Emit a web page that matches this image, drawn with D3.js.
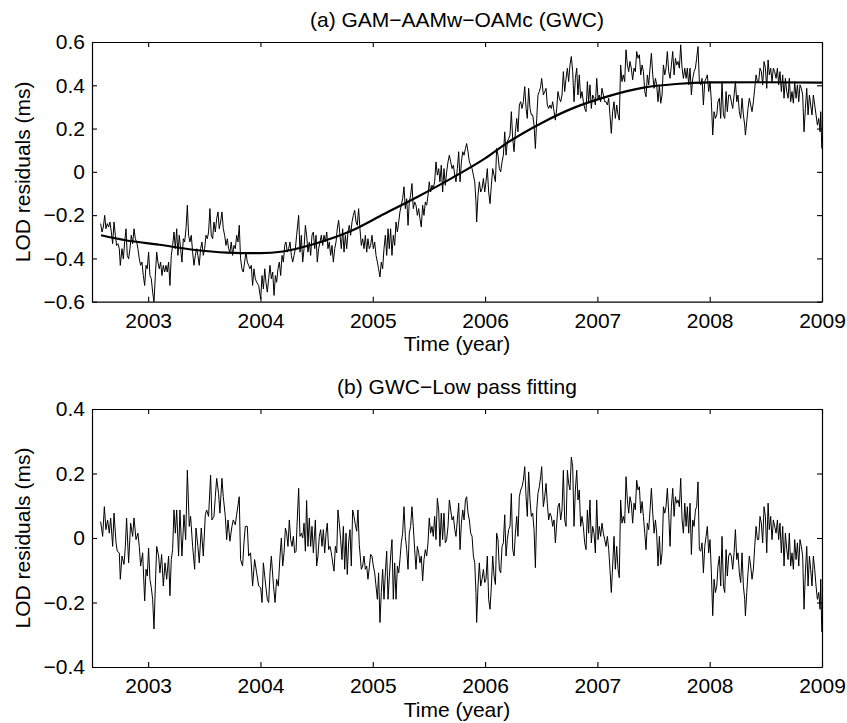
<!DOCTYPE html>
<html>
<head>
<meta charset="utf-8">
<script src="https://cdn.jsdelivr.net/npm/d3@7"></script>
<style>
  html, body { margin: 0; padding: 0; background: #fff; }
  svg { display: block; font-family: "Liberation Sans", Arial, Helvetica, sans-serif; }
</style>
</head>
<body>
<svg id="chart" width="847" height="723"></svg>
<script>
// Axis ticks
const yearTicks = [2003, 2004, 2005, 2006, 2007, 2008, 2009];
const topTicks = [-0.6, -0.4, -0.2, 0, 0.2, 0.4, 0.6];
const bottomTicks = [-0.4, -0.2, 0, 0.2, 0.4];

// Panel titles and axis labels
const topTitle = "(a) GAM\u2212AAMw\u2212OAMc (GWC)";
const bottomTitle = "(b) GWC\u2212Low pass fitting";
const xLabel = "Time (year)";
const yLabel = "LOD residuals (ms)";

// (a) LOD residuals GAM - AAMw - OAMc, [decimal year, ms]
const gwcSeries = [
[2002.577,-0.239],[2002.589,-0.278],[2002.601,-0.255],[2002.613,-0.201],[2002.624,-0.263],[2002.636,-0.239],[2002.648,-0.255],[2002.660,-0.232],[2002.672,-0.278],[2002.684,-0.332],[2002.696,-0.232],[2002.708,-0.293],[2002.719,-0.340],[2002.731,-0.332],[2002.743,-0.355],[2002.752,-0.432],[2002.767,-0.355],[2002.779,-0.402],[2002.791,-0.324],[2002.803,-0.263],[2002.814,-0.386],[2002.826,-0.402],[2002.838,-0.355],[2002.850,-0.293],[2002.862,-0.332],[2002.874,-0.263],[2002.886,-0.309],[2002.898,-0.324],[2002.909,-0.355],[2002.921,-0.402],[2002.933,-0.432],[2002.945,-0.417],[2002.957,-0.479],[2002.969,-0.525],[2002.981,-0.432],[2002.992,-0.448],[2003.004,-0.371],[2003.016,-0.479],[2003.028,-0.494],[2003.040,-0.556],[2003.052,-0.602],[2003.064,-0.479],[2003.076,-0.371],[2003.087,-0.417],[2003.099,-0.448],[2003.111,-0.417],[2003.123,-0.479],[2003.135,-0.432],[2003.147,-0.463],[2003.159,-0.432],[2003.170,-0.463],[2003.182,-0.417],[2003.194,-0.525],[2003.206,-0.386],[2003.218,-0.340],[2003.230,-0.278],[2003.242,-0.355],[2003.254,-0.263],[2003.265,-0.386],[2003.277,-0.293],[2003.289,-0.355],[2003.301,-0.417],[2003.313,-0.309],[2003.325,-0.324],[2003.337,-0.263],[2003.349,-0.154],[2003.360,-0.293],[2003.372,-0.324],[2003.384,-0.293],[2003.396,-0.371],[2003.408,-0.432],[2003.420,-0.386],[2003.432,-0.355],[2003.443,-0.386],[2003.455,-0.432],[2003.467,-0.355],[2003.479,-0.324],[2003.491,-0.386],[2003.503,-0.355],[2003.515,-0.293],[2003.527,-0.309],[2003.538,-0.278],[2003.550,-0.170],[2003.562,-0.293],[2003.574,-0.309],[2003.586,-0.232],[2003.598,-0.278],[2003.610,-0.216],[2003.622,-0.185],[2003.633,-0.263],[2003.645,-0.232],[2003.657,-0.185],[2003.669,-0.263],[2003.681,-0.293],[2003.693,-0.340],[2003.705,-0.309],[2003.716,-0.355],[2003.728,-0.371],[2003.740,-0.324],[2003.752,-0.386],[2003.764,-0.340],[2003.776,-0.355],[2003.788,-0.293],[2003.800,-0.324],[2003.811,-0.247],[2003.823,-0.402],[2003.835,-0.448],[2003.847,-0.463],[2003.859,-0.417],[2003.871,-0.371],[2003.883,-0.417],[2003.895,-0.432],[2003.906,-0.448],[2003.918,-0.432],[2003.930,-0.525],[2003.942,-0.448],[2003.954,-0.494],[2003.966,-0.510],[2003.984,-0.525],
[2004.002,-0.587],[2004.014,-0.479],[2004.026,-0.541],[2004.038,-0.448],[2004.049,-0.510],[2004.061,-0.556],[2004.073,-0.494],[2004.085,-0.432],[2004.097,-0.494],[2004.109,-0.463],[2004.121,-0.571],[2004.133,-0.479],[2004.144,-0.510],[2004.156,-0.448],[2004.168,-0.417],[2004.180,-0.479],[2004.192,-0.386],[2004.204,-0.417],[2004.216,-0.340],[2004.227,-0.324],[2004.239,-0.371],[2004.251,-0.355],[2004.263,-0.324],[2004.275,-0.386],[2004.287,-0.417],[2004.299,-0.386],[2004.311,-0.355],[2004.322,-0.293],[2004.340,-0.201],[2004.352,-0.371],[2004.364,-0.293],[2004.376,-0.417],[2004.388,-0.355],[2004.400,-0.247],[2004.411,-0.293],[2004.423,-0.371],[2004.435,-0.324],[2004.447,-0.386],[2004.459,-0.293],[2004.471,-0.278],[2004.483,-0.355],[2004.495,-0.293],[2004.506,-0.417],[2004.518,-0.355],[2004.530,-0.324],[2004.542,-0.293],[2004.554,-0.340],[2004.566,-0.293],[2004.578,-0.324],[2004.590,-0.278],[2004.601,-0.355],[2004.613,-0.324],[2004.625,-0.386],[2004.637,-0.340],[2004.649,-0.417],[2004.661,-0.355],[2004.673,-0.324],[2004.684,-0.263],[2004.696,-0.224],[2004.708,-0.293],[2004.720,-0.355],[2004.732,-0.263],[2004.744,-0.371],[2004.756,-0.293],[2004.768,-0.355],[2004.779,-0.278],[2004.791,-0.247],[2004.803,-0.293],[2004.815,-0.232],[2004.827,-0.201],[2004.839,-0.178],[2004.851,-0.232],[2004.862,-0.247],[2004.874,-0.170],[2004.886,-0.263],[2004.898,-0.340],[2004.910,-0.309],[2004.922,-0.355],[2004.934,-0.293],[2004.946,-0.371],[2004.957,-0.309],[2004.969,-0.355],[2004.981,-0.340],[2004.993,-0.293],[2005.005,-0.355],[2005.017,-0.324],[2005.029,-0.386],[2005.041,-0.417],[2005.052,-0.448],[2005.064,-0.486],[2005.076,-0.417],[2005.088,-0.448],[2005.100,-0.355],[2005.112,-0.293],[2005.124,-0.386],[2005.136,-0.263],[2005.147,-0.355],[2005.159,-0.263],[2005.171,-0.386],[2005.183,-0.293],[2005.195,-0.340],[2005.207,-0.232],[2005.219,-0.278],[2005.231,-0.232],[2005.242,-0.185],[2005.254,-0.154],[2005.266,-0.124],[2005.278,-0.069],[2005.290,-0.170],[2005.302,-0.124],[2005.314,-0.247],[2005.325,-0.139],[2005.337,-0.108],[2005.349,-0.054],[2005.361,-0.170],[2005.373,-0.139],[2005.385,-0.154],[2005.397,-0.201],[2005.409,-0.170],[2005.420,-0.216],[2005.432,-0.255],[2005.444,-0.154],[2005.456,-0.201],[2005.468,-0.139],[2005.480,-0.154],[2005.492,-0.108],[2005.503,-0.046],[2005.515,-0.093],[2005.527,-0.062],[2005.539,-0.077],[2005.551,-0.046],[2005.563,0.046],[2005.575,-0.015],[2005.587,0.015],[2005.598,-0.046],[2005.610,0.031],[2005.622,-0.093],[2005.634,0.015],[2005.646,-0.062],[2005.658,0.000],[2005.670,0.046],[2005.682,0.077],
[2005.694,0.046],[2005.706,0.015],[2005.718,0.031],[2005.730,-0.015],[2005.741,-0.046],[2005.753,0.015],[2005.765,0.093],[2005.777,-0.046],[2005.789,0.046],[2005.801,0.093],[2005.813,0.077],[2005.825,0.108],[2005.836,0.131],[2005.848,0.093],[2005.860,0.046],[2005.872,0.031],[2005.884,0.015],[2005.896,-0.015],[2005.908,-0.046],[2005.919,-0.139],[2005.925,-0.232],[2005.937,-0.108],[2005.949,-0.046],[2005.961,-0.093],[2005.973,-0.077],[2005.985,-0.031],[2005.997,-0.093],[2006.008,-0.046],[2006.020,0.015],[2006.032,-0.093],[2006.044,-0.147],[2006.056,-0.062],[2006.068,0.015],[2006.080,-0.015],[2006.092,-0.046],[2006.103,0.108],[2006.115,0.077],[2006.127,0.015],[2006.139,0.000],[2006.151,0.046],[2006.163,0.077],[2006.175,0.185],[2006.187,0.077],[2006.198,0.139],[2006.210,0.154],[2006.222,0.170],[2006.234,0.278],[2006.246,0.154],[2006.258,0.093],[2006.270,0.185],[2006.282,0.247],[2006.293,0.185],[2006.305,0.309],[2006.317,0.324],[2006.329,0.293],[2006.341,0.324],[2006.353,0.394],[2006.365,0.293],[2006.376,0.247],[2006.388,0.386],[2006.400,0.293],[2006.412,0.263],[2006.424,0.263],[2006.436,0.216],[2006.448,0.108],[2006.460,0.247],[2006.471,0.355],[2006.483,0.371],[2006.495,0.394],[2006.504,0.432],[2006.519,0.355],[2006.531,0.371],[2006.543,0.386],[2006.554,0.309],[2006.566,0.293],[2006.578,0.309],[2006.590,0.293],[2006.602,0.324],[2006.614,0.278],[2006.626,0.239],[2006.638,0.293],[2006.649,0.371],[2006.661,0.340],[2006.673,0.324],[2006.685,0.355],[2006.697,0.463],[2006.709,0.371],[2006.721,0.432],[2006.733,0.479],[2006.744,0.417],[2006.756,0.494],[2006.768,0.533],[2006.780,0.463],[2006.792,0.324],[2006.804,0.432],[2006.816,0.479],[2006.827,0.355],[2006.839,0.448],[2006.851,0.340],[2006.863,0.371],[2006.875,0.324],[2006.887,0.293],[2006.899,0.278],[2006.911,0.417],[2006.922,0.324],[2006.934,0.402],[2006.946,0.293],[2006.958,0.355],[2006.970,0.340],[2006.982,0.309],[2006.994,0.432],[2007.006,0.340],[2007.017,0.355],[2007.029,0.324],[2007.041,0.386],[2007.053,0.355],[2007.065,0.324],[2007.077,0.324],[2007.089,0.309],[2007.101,0.340],[2007.112,0.263],[2007.124,0.178],[2007.136,0.278],[2007.148,0.324],[2007.160,0.247],[2007.172,0.309],[2007.184,0.263],[2007.195,0.239],[2007.207,0.494],[2007.219,0.417],[2007.231,0.448],[2007.243,0.417],[2007.255,0.564],[2007.267,0.494],[2007.279,0.463],[2007.290,0.510],[2007.302,0.479],[2007.314,0.425],[2007.326,0.479],[2007.338,0.463],[2007.350,0.556],[2007.362,0.525],[2007.374,0.541],
[2007.386,0.448],[2007.398,0.494],[2007.410,0.463],[2007.422,0.371],[2007.433,0.347],[2007.445,0.448],[2007.457,0.402],[2007.469,0.479],[2007.481,0.548],[2007.493,0.448],[2007.505,0.386],[2007.517,0.432],[2007.528,0.402],[2007.540,0.324],[2007.552,0.402],[2007.564,0.317],[2007.576,0.355],[2007.588,0.494],[2007.600,0.448],[2007.611,0.479],[2007.623,0.556],[2007.635,0.463],[2007.647,0.432],[2007.659,0.494],[2007.671,0.556],[2007.683,0.448],[2007.695,0.525],[2007.706,0.494],[2007.718,0.510],[2007.730,0.479],[2007.742,0.587],[2007.754,0.479],[2007.766,0.432],[2007.778,0.479],[2007.790,0.432],[2007.801,0.479],[2007.813,0.402],[2007.825,0.479],[2007.837,0.355],[2007.849,0.432],[2007.861,0.463],[2007.873,0.479],[2007.884,0.525],[2007.896,0.579],[2007.908,0.417],[2007.920,0.402],[2007.932,0.432],[2007.944,0.309],[2007.956,0.417],[2007.968,0.432],[2007.979,0.448],[2007.991,0.371],[2008.003,0.417],[2008.015,0.324],[2008.027,0.170],[2008.039,0.278],[2008.051,0.247],[2008.063,0.263],[2008.074,0.324],[2008.086,0.340],[2008.098,0.247],[2008.110,0.417],[2008.122,0.263],[2008.134,0.247],[2008.146,0.371],[2008.157,0.278],[2008.169,0.355],[2008.181,0.355],[2008.193,0.324],[2008.205,0.293],[2008.217,0.355],[2008.229,0.417],[2008.241,0.324],[2008.252,0.355],[2008.264,0.278],[2008.276,0.247],[2008.288,0.340],[2008.300,0.263],[2008.312,0.216],[2008.318,0.170],[2008.330,0.232],[2008.341,0.293],[2008.353,0.340],[2008.365,0.309],[2008.377,0.278],[2008.389,0.324],[2008.401,0.386],[2008.413,0.448],[2008.425,0.417],[2008.436,0.417],[2008.448,0.479],[2008.460,0.463],[2008.472,0.402],[2008.484,0.510],[2008.496,0.479],[2008.508,0.386],[2008.520,0.517],[2008.531,0.448],[2008.543,0.479],[2008.555,0.417],[2008.567,0.479],[2008.579,0.463],[2008.591,0.432],[2008.603,0.479],[2008.614,0.402],[2008.626,0.463],[2008.638,0.371],[2008.650,0.448],[2008.662,0.340],[2008.674,0.432],[2008.686,0.371],[2008.698,0.340],[2008.709,0.432],[2008.721,0.324],[2008.733,0.371],[2008.745,0.317],[2008.757,0.417],[2008.769,0.340],[2008.781,0.402],[2008.793,0.324],[2008.804,0.402],[2008.816,0.386],[2008.828,0.355],[2008.840,0.185],[2008.852,0.293],[2008.864,0.386],[2008.876,0.263],[2008.888,0.355],[2008.899,0.309],[2008.911,0.263],[2008.923,0.355],[2008.935,0.309],[2008.947,0.263],[2008.959,0.216],[2008.971,0.247],[2008.983,0.185],[2008.989,0.278],[2008.998,0.108]
];

// (a) low-pass fitting curve, [decimal year, ms]
const gwcFit = [
[2002.58,-0.293],[2002.80,-0.316],[2003.10,-0.337],[2003.40,-0.360],[2003.70,-0.373],[2004.00,-0.376],[2004.20,-0.368],[2004.50,-0.330],[2004.80,-0.275],[2005.10,-0.195],[2005.40,-0.115],[2005.70,-0.030],[2006.00,0.062],[2006.20,0.135],[2006.50,0.225],[2006.80,0.298],[2007.10,0.350],[2007.40,0.388],[2007.70,0.406],[2008.00,0.413],[2008.50,0.414],[2009.00,0.412]
];

// (b) GWC minus low-pass fitting, [decimal year, ms]
const residualSeries = [
[2002.577,0.051],[2002.595,0.005],[2002.610,0.097],[2002.624,0.026],[2002.639,0.056],[2002.654,0.015],[2002.666,0.062],[2002.684,-0.026],[2002.696,0.077],[2002.714,-0.015],[2002.725,-0.041],[2002.743,-0.046],[2002.752,-0.128],[2002.767,-0.056],[2002.785,-0.082],[2002.797,-0.026],[2002.808,0.062],[2002.826,-0.077],[2002.844,0.046],[2002.862,0.005],[2002.874,0.062],[2002.892,-0.005],[2002.909,0.015],[2002.921,-0.026],[2002.933,-0.087],[2002.951,-0.046],[2002.969,-0.195],[2002.981,-0.097],[2002.992,-0.118],[2003.004,-0.031],[2003.016,-0.128],[2003.028,-0.154],[2003.040,-0.190],[2003.052,-0.282],[2003.064,-0.149],[2003.076,-0.026],[2003.093,-0.056],[2003.105,-0.108],[2003.120,-0.051],[2003.135,-0.149],[2003.150,-0.077],[2003.165,-0.128],[2003.182,-0.056],[2003.194,-0.179],[2003.206,-0.067],[2003.218,-0.036],[2003.230,0.087],[2003.242,0.015],[2003.254,0.087],[2003.271,-0.056],[2003.283,0.087],[2003.301,-0.056],[2003.319,0.072],[2003.334,-0.005],[2003.349,0.210],[2003.366,0.036],[2003.378,0.067],[2003.396,-0.026],[2003.414,-0.097],[2003.426,0.031],[2003.443,-0.026],[2003.455,-0.077],[2003.473,0.031],[2003.491,-0.056],[2003.509,0.072],[2003.521,0.087],[2003.538,0.067],[2003.556,0.195],[2003.568,0.056],[2003.586,0.067],[2003.598,0.128],[2003.610,0.185],[2003.627,0.138],[2003.639,0.077],[2003.657,0.185],[2003.669,0.128],[2003.687,0.067],[2003.699,-0.005],[2003.711,0.056],[2003.728,-0.010],[2003.746,0.036],[2003.758,0.056],[2003.776,0.041],[2003.788,0.072],[2003.811,0.128],[2003.823,-0.067],[2003.841,-0.087],[2003.853,-0.015],[2003.865,0.036],[2003.883,0.036],[2003.895,-0.056],[2003.912,-0.046],[2003.930,-0.149],[2003.948,-0.067],[2003.966,-0.108],[2003.984,-0.149],
[2004.002,-0.154],[2004.014,-0.200],[2004.026,-0.077],[2004.038,-0.118],[2004.049,-0.154],[2004.061,-0.190],[2004.073,-0.200],[2004.085,-0.108],[2004.097,-0.056],[2004.115,-0.144],[2004.130,-0.200],[2004.144,-0.128],[2004.159,-0.149],[2004.174,-0.056],[2004.186,0.000],[2004.198,-0.087],[2004.210,-0.046],[2004.222,0.031],[2004.233,0.015],[2004.245,-0.026],[2004.257,0.056],[2004.269,-0.005],[2004.281,-0.026],[2004.293,0.005],[2004.305,-0.046],[2004.317,-0.041],[2004.325,0.036],[2004.340,0.154],[2004.352,0.005],[2004.364,0.015],[2004.376,0.000],[2004.388,0.046],[2004.400,-0.041],[2004.411,0.116],[2004.423,-0.026],[2004.435,0.062],[2004.447,-0.026],[2004.459,0.036],[2004.471,-0.046],[2004.489,0.056],[2004.500,-0.087],[2004.512,-0.056],[2004.524,0.005],[2004.536,0.026],[2004.548,-0.026],[2004.560,0.026],[2004.572,-0.046],[2004.584,0.015],[2004.595,0.046],[2004.607,-0.036],[2004.619,-0.026],[2004.631,-0.046],[2004.643,-0.077],[2004.655,-0.103],[2004.667,-0.026],[2004.679,-0.046],[2004.690,0.087],[2004.702,0.046],[2004.714,-0.005],[2004.726,-0.067],[2004.738,0.036],[2004.750,-0.097],[2004.762,0.015],[2004.773,-0.113],[2004.785,-0.015],[2004.797,0.026],[2004.809,-0.087],[2004.821,0.087],[2004.833,0.067],[2004.845,0.041],[2004.857,0.021],[2004.868,0.087],[2004.880,-0.021],[2004.898,-0.097],[2004.910,-0.087],[2004.922,-0.056],[2004.934,-0.097],[2004.946,-0.087],[2004.957,-0.128],[2004.969,-0.092],[2004.981,-0.051],[2004.993,-0.056],[2005.005,-0.087],[2005.017,-0.108],[2005.029,-0.149],[2005.041,-0.190],[2005.052,-0.108],[2005.064,-0.262],[2005.076,-0.169],[2005.088,-0.097],[2005.100,-0.190],[2005.112,-0.108],[2005.124,-0.041],[2005.136,-0.190],[2005.147,-0.123],[2005.159,-0.056],[2005.171,-0.005],[2005.183,-0.190],[2005.195,-0.077],[2005.207,-0.190],[2005.219,-0.087],[2005.231,-0.108],[2005.242,-0.067],[2005.254,-0.015],[2005.266,0.015],[2005.278,0.097],[2005.290,0.005],[2005.302,-0.036],[2005.314,-0.097],[2005.325,0.015],[2005.337,0.036],[2005.349,0.097],[2005.361,0.036],[2005.373,-0.036],[2005.385,-0.097],[2005.397,-0.026],[2005.409,-0.046],[2005.420,-0.077],[2005.432,-0.056],[2005.444,-0.133],[2005.456,-0.067],[2005.468,-0.036],[2005.480,-0.056],[2005.492,-0.015],[2005.503,0.062],[2005.515,0.015],[2005.527,0.036],[2005.539,0.005],[2005.551,0.067],[2005.563,-0.005],[2005.575,0.123],[2005.587,0.087],[2005.598,-0.026],[2005.610,0.077],[2005.622,-0.005],[2005.634,0.077],[2005.646,-0.015],[2005.658,-0.005],[2005.670,0.036],[2005.682,0.118],
[2005.694,0.087],[2005.706,0.056],[2005.718,0.067],[2005.730,0.026],[2005.741,0.005],[2005.753,0.056],[2005.765,0.108],[2005.777,-0.036],[2005.789,0.046],[2005.801,0.087],[2005.813,0.056],[2005.825,0.118],[2005.836,0.128],[2005.848,0.077],[2005.860,0.056],[2005.872,0.015],[2005.884,0.005],[2005.896,-0.056],[2005.908,-0.077],[2005.919,-0.169],[2005.925,-0.262],[2005.937,-0.149],[2005.949,-0.077],[2005.961,-0.149],[2005.973,-0.128],[2005.985,-0.097],[2005.997,-0.138],[2006.008,-0.128],[2006.020,-0.056],[2006.032,-0.190],[2006.044,-0.221],[2006.056,-0.149],[2006.068,-0.056],[2006.080,-0.118],[2006.092,-0.144],[2006.103,0.015],[2006.115,-0.005],[2006.127,-0.097],[2006.139,-0.108],[2006.151,-0.026],[2006.163,-0.015],[2006.175,0.072],[2006.187,-0.056],[2006.198,-0.005],[2006.210,0.026],[2006.222,0.036],[2006.234,0.138],[2006.246,-0.036],[2006.258,-0.056],[2006.270,0.015],[2006.282,0.067],[2006.293,0.005],[2006.305,0.128],[2006.317,0.149],[2006.329,0.159],[2006.341,0.179],[2006.353,0.221],[2006.365,0.128],[2006.376,0.067],[2006.388,0.205],[2006.400,0.118],[2006.412,0.067],[2006.424,0.077],[2006.436,0.026],[2006.448,-0.092],[2006.460,0.087],[2006.471,0.138],[2006.483,0.159],[2006.495,0.190],[2006.504,0.221],[2006.519,0.097],[2006.531,0.128],[2006.543,0.169],[2006.554,0.108],[2006.566,0.056],[2006.578,0.077],[2006.590,0.067],[2006.602,0.036],[2006.614,0.056],[2006.626,-0.015],[2006.638,0.046],[2006.649,0.097],[2006.661,0.108],[2006.673,0.056],[2006.685,0.087],[2006.697,0.210],[2006.709,0.056],[2006.721,0.036],[2006.733,0.210],[2006.744,0.169],[2006.756,0.149],[2006.768,0.251],[2006.780,0.221],[2006.792,0.036],[2006.804,0.149],[2006.816,0.210],[2006.827,0.118],[2006.839,0.149],[2006.851,0.036],[2006.863,0.067],[2006.875,0.036],[2006.887,-0.015],[2006.899,-0.036],[2006.911,0.087],[2006.922,0.015],[2006.934,0.118],[2006.946,-0.015],[2006.958,0.036],[2006.970,0.015],[2006.982,-0.046],[2006.994,0.118],[2007.006,-0.005],[2007.017,0.036],[2007.029,0.005],[2007.041,0.046],[2007.053,0.015],[2007.065,-0.005],[2007.077,-0.026],[2007.089,0.005],[2007.101,-0.036],[2007.112,-0.097],[2007.124,-0.169],[2007.136,-0.087],[2007.148,0.005],[2007.160,-0.097],[2007.172,-0.026],[2007.184,-0.097],[2007.195,-0.123],[2007.207,0.118],[2007.219,0.046],[2007.231,0.067],[2007.243,0.046],[2007.255,0.190],[2007.267,0.118],[2007.279,0.077],[2007.290,0.128],[2007.302,0.108],[2007.314,0.046],[2007.326,0.108],[2007.338,0.087],[2007.350,0.179],[2007.362,0.149],[2007.374,0.159],
[2007.386,0.077],[2007.398,0.113],[2007.410,0.067],[2007.422,0.015],[2007.433,-0.036],[2007.445,0.046],[2007.457,0.026],[2007.469,0.087],[2007.481,0.154],[2007.493,0.077],[2007.505,0.015],[2007.517,0.056],[2007.528,0.015],[2007.540,-0.087],[2007.552,0.005],[2007.564,-0.082],[2007.576,-0.046],[2007.588,0.097],[2007.600,0.077],[2007.611,0.097],[2007.623,0.154],[2007.635,0.077],[2007.647,-0.026],[2007.659,0.097],[2007.671,0.154],[2007.683,0.067],[2007.695,0.128],[2007.706,0.108],[2007.718,0.118],[2007.730,0.097],[2007.742,0.185],[2007.754,0.056],[2007.766,0.015],[2007.778,0.108],[2007.790,0.036],[2007.801,0.097],[2007.813,0.015],[2007.825,0.108],[2007.837,-0.051],[2007.849,0.056],[2007.861,0.036],[2007.873,0.087],[2007.884,0.097],[2007.896,0.174],[2007.908,-0.036],[2007.920,-0.041],[2007.932,-0.015],[2007.944,-0.108],[2007.956,-0.026],[2007.968,0.005],[2007.979,0.036],[2007.991,-0.046],[2008.003,-0.005],[2008.015,-0.108],[2008.027,-0.241],[2008.039,-0.128],[2008.051,-0.169],[2008.063,-0.149],[2008.074,-0.087],[2008.086,-0.056],[2008.098,-0.149],[2008.110,0.005],[2008.122,-0.149],[2008.134,-0.169],[2008.146,-0.036],[2008.157,-0.118],[2008.169,-0.056],[2008.181,-0.046],[2008.193,-0.056],[2008.205,-0.097],[2008.217,-0.046],[2008.229,0.026],[2008.241,-0.067],[2008.252,-0.046],[2008.264,-0.108],[2008.276,-0.138],[2008.288,-0.046],[2008.300,-0.149],[2008.312,-0.190],[2008.318,-0.241],[2008.330,-0.169],[2008.341,-0.108],[2008.353,-0.056],[2008.365,-0.087],[2008.377,-0.128],[2008.389,-0.097],[2008.401,-0.026],[2008.413,0.036],[2008.425,-0.005],[2008.436,-0.005],[2008.448,0.067],[2008.460,0.046],[2008.472,-0.015],[2008.484,0.097],[2008.496,0.067],[2008.508,-0.046],[2008.520,0.108],[2008.531,0.026],[2008.543,0.067],[2008.555,-0.005],[2008.567,0.056],[2008.579,0.036],[2008.591,0.015],[2008.603,0.056],[2008.614,-0.005],[2008.626,0.046],[2008.638,-0.046],[2008.650,0.036],[2008.662,-0.087],[2008.674,0.015],[2008.686,-0.036],[2008.698,-0.067],[2008.709,0.015],[2008.721,-0.087],[2008.733,-0.046],[2008.745,-0.097],[2008.757,-0.005],[2008.769,-0.067],[2008.781,-0.015],[2008.793,-0.087],[2008.804,-0.005],[2008.816,-0.026],[2008.828,-0.056],[2008.840,-0.221],[2008.852,-0.108],[2008.864,-0.026],[2008.876,-0.149],[2008.888,-0.056],[2008.899,-0.097],[2008.911,-0.149],[2008.923,-0.056],[2008.935,-0.097],[2008.947,-0.149],[2008.959,-0.190],[2008.971,-0.169],[2008.983,-0.221],[2008.989,-0.128],[2008.998,-0.292]
];

const svg = d3.select("#chart");
const FONT = 21;

// shared time axis
const x = d3.scaleLinear().domain([2002.5, 2009]).range([92, 822]);

const fmt = v => v === 0 ? "0" : (v < 0 ? "\u2212" : "") + Math.abs(v).toFixed(1);

const panels = [
  { top: 42, bottom: 301.7, domain: [-0.6, 0.6], ticks: topTicks, title: topTitle,
    series: gwcSeries, fit: gwcFit },
  { top: 409, bottom: 667, domain: [-0.4, 0.4], ticks: bottomTicks, title: bottomTitle,
    series: residualSeries, fit: null }
];

function styleAxis(g) {
  g.attr("font-size", FONT).attr("font-family", null);
  g.select(".domain").attr("stroke", "#000").attr("stroke-width", 1.2);
  g.selectAll(".tick line").attr("stroke", "#000").attr("stroke-width", 1.1);
  g.selectAll(".tick text").attr("fill", "#000");
}

panels.forEach(p => {
  const y = d3.scaleLinear().domain(p.domain).range([p.bottom, p.top]);
  const g = svg.append("g");

  // data lines, clipped to the axes box
  const clipId = "clip" + p.top;
  svg.append("clipPath").attr("id", clipId).append("rect")
    .attr("x", x.range()[0]).attr("y", p.top)
    .attr("width", x.range()[1] - x.range()[0]).attr("height", p.bottom - p.top);

  const line = d3.line().x(d => x(d[0])).y(d => y(d[1]));
  g.append("path").datum(p.series)
    .attr("clip-path", `url(#${clipId})`)
    .attr("d", line)
    .attr("fill", "none").attr("stroke", "#000").attr("stroke-width", 1)
    .attr("stroke-linejoin", "round");

  if (p.fit) {
    const fitLine = d3.line().x(d => x(d[0])).y(d => y(d[1])).curve(d3.curveMonotoneX);
    g.append("path").datum(p.fit)
      .attr("d", fitLine)
      .attr("fill", "none").attr("stroke", "#000").attr("stroke-width", 2.2);
  }

  // box axes with inward ticks on all four sides
  g.append("g").attr("transform", `translate(${x.range()[0]},0)`)
    .call(d3.axisLeft(y).tickValues(p.ticks).tickFormat(fmt)
      .tickSizeInner(-5).tickSizeOuter(0).tickPadding(7))
    .call(styleAxis);
  g.append("g").attr("transform", `translate(${x.range()[1]},0)`)
    .call(d3.axisRight(y).tickValues(p.ticks).tickFormat("")
      .tickSizeInner(-5).tickSizeOuter(0))
    .call(styleAxis);
  g.append("g").attr("transform", `translate(0,${p.bottom})`)
    .call(d3.axisBottom(x).tickValues(yearTicks).tickFormat(d3.format("d"))
      .tickSizeInner(-5).tickSizeOuter(0).tickPadding(11))
    .call(styleAxis);
  g.append("g").attr("transform", `translate(0,${p.top})`)
    .call(d3.axisTop(x).tickValues(yearTicks).tickFormat("")
      .tickSizeInner(-5).tickSizeOuter(0))
    .call(styleAxis);

  const cx = (x.range()[0] + x.range()[1]) / 2;
  // title
  g.append("text").attr("x", cx).attr("y", p.top - 15)
    .attr("text-anchor", "middle").attr("font-size", FONT).attr("fill", "#000")
    .text(p.title);
  // x label
  g.append("text").attr("x", cx).attr("y", p.bottom + 49.5)
    .attr("text-anchor", "middle").attr("font-size", FONT).attr("fill", "#000")
    .text(xLabel);
  // y label
  g.append("text")
    .attr("transform", `translate(30,${(p.top + p.bottom) / 2}) rotate(-90)`)
    .attr("text-anchor", "middle").attr("font-size", FONT).attr("fill", "#000")
    .text(yLabel);
});
</script>
</body>
</html>
